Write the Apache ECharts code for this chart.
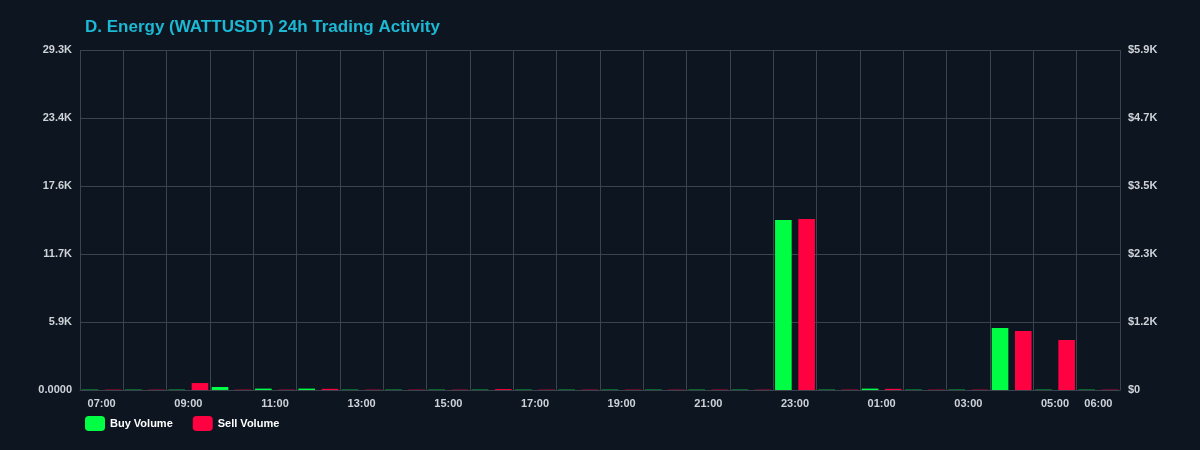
<!DOCTYPE html><html><head><meta charset="utf-8"><script src="https://cdn.jsdelivr.net/npm/echarts@6/dist/echarts.min.js"></script>
<style>html,body{margin:0;background:#0c1520}#c{width:1200px;height:450px}</style></head><body><div id="c"></div><script>
const hours=['07:00','08:00','09:00','10:00','11:00','12:00','13:00','14:00','15:00','16:00','17:00','18:00','19:00','20:00','21:00','22:00','23:00','00:00','01:00','02:00','03:00','04:00','05:00','06:00'];
const buyVol=[30,30,30,260,120,120,30,30,30,30,30,30,30,30,30,30,14650,30,120,30,30,5340,30,30];
const sellVol=[30,30,600,30,30,100,30,30,30,80,30,30,30,30,30,30,14740,30,100,30,30,5080,4310,30];
const lab={color:'#cfd3d8',fontSize:11,fontWeight:'bold'};
const ch=echarts.init(document.getElementById('c'));
ch.setOption({backgroundColor:'#0c1520',animation:false,
title:{text:'D. Energy (WATTUSDT) 24h Trading Activity',left:80,top:14,textStyle:{color:'#1cb8d4',fontSize:17,fontWeight:'bold'}},
legend:{left:80,bottom:14,itemWidth:20,itemHeight:15,itemGap:20,textStyle:{color:'#fff',fontSize:11,fontWeight:'bold'},data:['Buy Volume','Sell Volume']},
grid:{left:80,right:80,top:50,bottom:60},
xAxis:{type:'category',data:hours,axisTick:{show:false},axisLine:{lineStyle:{color:'#3a434e'}},
 axisLabel:Object.assign({},lab,{interval:(i)=>i%2===0||i===23}),splitLine:{show:true,interval:0,lineStyle:{color:'#3a434e'}}},
yAxis:[{type:'value',min:0,max:29300,interval:5860,axisLine:{show:false},splitLine:{lineStyle:{color:'#3a434e'}},
 axisLabel:Object.assign({},lab,{formatter:v=>v===0?'0.0000':(v/1000).toFixed(1)+'K'})},
{type:'value',min:0,max:5860,interval:1172,axisLine:{show:false},splitLine:{show:false},
 axisLabel:Object.assign({},lab,{formatter:v=>v===0?'$0':'$'+(v/1000).toFixed(1)+'K'})}],
series:[{name:'Buy Volume',type:'bar',data:buyVol,itemStyle:{color:'#00ff44'},barCategoryGap:'8%',barGap:'40%'},
{name:'Sell Volume',type:'bar',data:sellVol,itemStyle:{color:'#ff0040'}}]});
</script></body></html>
